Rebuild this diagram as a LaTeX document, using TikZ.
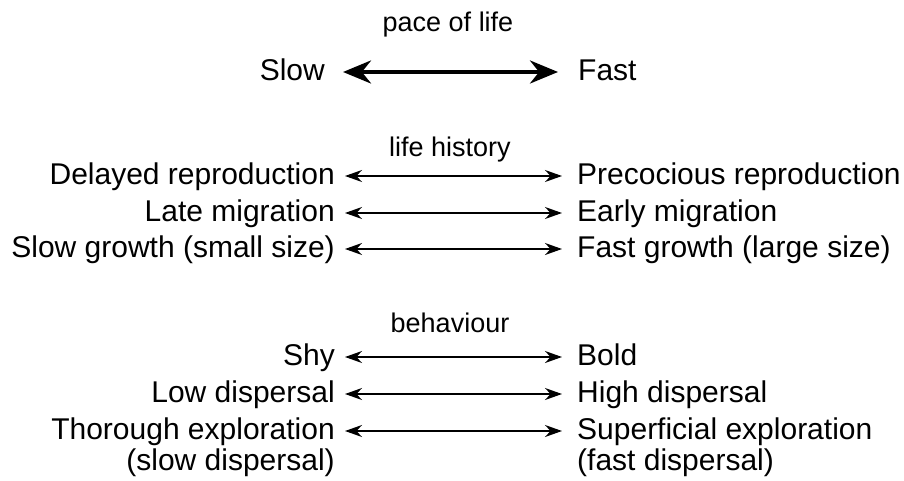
\documentclass[tikz,border=0pt]{standalone}
\usepackage{fontspec}
\setmainfont{Liberation Sans}
\usetikzlibrary{arrows.meta}

\begin{document}
\begin{tikzpicture}[x=1pt, y=-1pt, line cap=round, line join=round,
  lbl/.style={inner sep=0pt, text height=22pt, text depth=5pt, font=\fontsize{30}{31}\selectfont},
  ttl/.style={inner sep=0pt, text height=20pt, text depth=5pt, font=\fontsize{27}{28}\selectfont},
  pair/.style={line width=1.5pt, {Stealth[length=17pt,width=12pt]}-{Stealth[length=17pt,width=12pt]}, shorten <=10pt, shorten >=15pt},
  bigpair/.style={line width=4pt, {Stealth[length=28pt,width=23pt]}-{Stealth[length=28pt,width=23pt]}, shorten <=18pt, shorten >=20pt}]

  %% ════ pace of life ════
  \node[ttl] (pace) at (448,24.5) {pace of life};
  \node[lbl,anchor=east] (slow) at (325,72) {Slow};
  \node[lbl,anchor=west] (fast) at (578,72) {Fast};
  \draw[bigpair] (slow.east) -- (fast.west);

  %% ════ life history ════
  \node[ttl] (lifehist) at (450,149.5) {life history};
  \node[lbl,anchor=east] (delay)  at (335,176) {Delayed reproduction};
  \node[lbl,anchor=west] (precoc) at (577,176) {Precocious reproduction};
  \node[lbl,anchor=east] (late)   at (335,213) {Late migration};
  \node[lbl,anchor=west] (early)  at (577,213) {Early migration};
  \node[lbl,anchor=east] (slowgr) at (335,249) {Slow growth (small size)};
  \node[lbl,anchor=west] (fastgr) at (577,249) {Fast growth (large size)};
  \draw[pair] (delay.east)  -- (precoc.west);
  \draw[pair] (late.east)   -- (early.west);
  \draw[pair] (slowgr.east) -- (fastgr.west);

  %% ════ behaviour ════
  \node[ttl] (behav) at (450,324.5) {behaviour};
  \node[lbl,anchor=east] (shy)      at (335,357) {Shy};
  \node[lbl,anchor=west] (bold)     at (577,357) {Bold};
  \node[lbl,anchor=east] (lowdisp)  at (335,394) {Low dispersal};
  \node[lbl,anchor=west] (highdisp) at (577,394) {High dispersal};
  \node[lbl,anchor=east] (thor)     at (335,431) {Thorough exploration};
  \node[lbl,anchor=west] (superf)   at (577,431) {Superficial exploration};
  \node[lbl,anchor=east] (thorb)    at (335,461.5) {(slow dispersal)};
  \node[lbl,anchor=west] (superfb)  at (577,461.5) {(fast dispersal)};
  \draw[pair] (shy.east)     -- (bold.west);
  \draw[pair] (lowdisp.east) -- (highdisp.west);
  \draw[pair] (thor.east)    -- (superf.west);

  % 钉死画布
  \pgfresetboundingbox
  \path[use as bounding box] (0,0) rectangle (904,481);
\end{tikzpicture}
\end{document}
